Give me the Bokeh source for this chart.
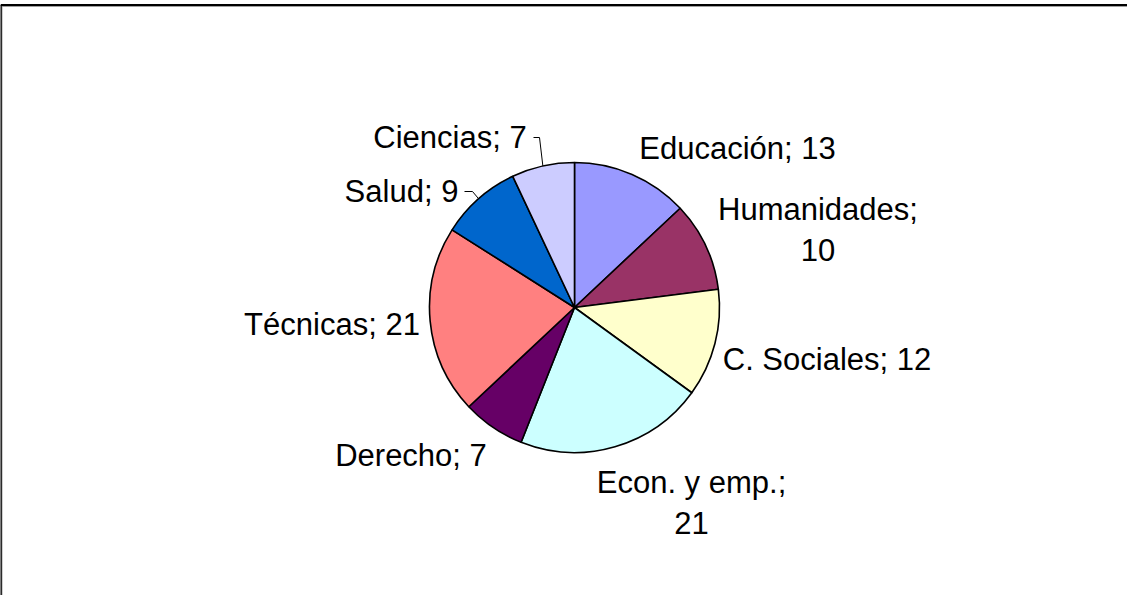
import math
from bokeh.plotting import figure
from bokeh.models import Range1d, ColumnDataSource
from bokeh.core.properties import value
from bokeh.embed import file_html
from bokeh.resources import INLINE

# ---- data ----
categories = ["Educación", "Humanidades", "C. Sociales", "Econ. y emp.",
              "Derecho", "Técnicas", "Salud", "Ciencias"]
values = [13, 10, 12, 21, 7, 21, 9, 7]
colors = ["#9999FF", "#993366", "#FFFFCC", "#CCFFFF",
          "#660066", "#FF8080", "#0066CC", "#CCCCFF"]
# label line break after the ";" for these categories
wrapped = ["Humanidades", "Econ. y emp."]

# ---- layout (page pixels) ----
W, H = 1127, 595
OX, OY = 8, 8            # page margin


def fx(px):
    return px - OX


def fy(py):
    return H - (py - OY)


cx, cy, R = fx(582), fy(315), 145

# label anchors: (center x, vertical middle of first line) in page px
label_pos = {
    "Educación": (745, 156),
    "Humanidades": (825.5, 217),
    "C. Sociales": (834.5, 367),
    "Econ. y emp.": (699, 490),
    "Derecho": (418.5, 462.5),
    "Técnicas": (339.5, 332),
    "Salud": (409, 199),
    "Ciencias": (457.5, 145),
}
line_gap = 40.5
# leader lines: (start x, elbow x, y) in page px
leaders = {
    "Ciencias": (541, 547, 145),
    "Salud": (472, 480, 199),
}

p = figure(width=W, height=H, output_backend="svg", toolbar_location=None,
           x_range=Range1d(0, W), y_range=Range1d(0, H),
           x_axis_type=None, y_axis_type=None, min_border=0)
p.outline_line_color = None
p.grid.visible = False
p.background_fill_color = "white"
p.border_fill_color = "white"

# frame (cut off on the right and bottom, like the reference)
p.line([fx(9.5), fx(9.5)], [fy(13), -10], line_color="#A0A0A0", line_width=1)
p.line([fx(9.5), W + 10], [fy(14), fy(14)], line_color="#A0A0A0", line_width=1)
p.line([fx(8.3), fx(8.3)], [fy(12.5), -10], line_color="black", line_width=2)
p.line([fx(8), W + 10], [fy(12.5), fy(12.5)], line_color="black", line_width=2)

total = sum(values)
starts, ends, mids = [], [], []
cum = 0
for v in values:
    a0 = math.pi / 2 - 2 * math.pi * cum / total
    cum += v
    a1 = math.pi / 2 - 2 * math.pi * cum / total
    starts.append(a0)
    ends.append(a1)
    mids.append((a0 + a1) / 2)

src = ColumnDataSource(dict(start=starts, end=ends, color=colors))
p.wedge(x=cx, y=cy, radius=R, start_angle="start", end_angle="end",
        direction="clock", fill_color="color", line_color="black",
        line_width=1.6, source=src)

font = value("Liberation Sans")
for cat, v, m in zip(categories, values, mids):
    lx, ly = label_pos[cat]
    if cat in wrapped:
        lines = [cat + ";", str(v)]
    else:
        lines = [f"{cat}; {v}"]
    for i, t in enumerate(lines):
        p.text(x=[fx(lx)], y=[fy(ly + i * line_gap)], text=[t],
               text_font=font, text_font_size="31px", text_color="black",
               text_align="center", text_baseline="middle")
    if cat in leaders:
        sx, ex, yy = leaders[cat]
        tx = cx + R * math.cos(m)
        ty = cy + R * math.sin(m)
        p.line([fx(sx), fx(ex), tx], [fy(yy), fy(yy), ty],
               line_color="black", line_width=1)

open("out.html", "w").write(file_html(p, INLINE))
